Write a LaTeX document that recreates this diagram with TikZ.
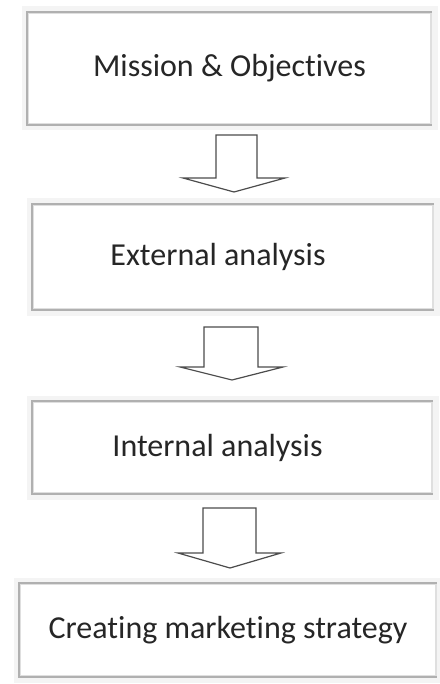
\documentclass[tikz,border=0pt]{standalone}
\usepackage{fontspec}
\setmainfont{Carlito}[Ligatures=NoCommon]
\usetikzlibrary{positioning}
\begin{document}
\begin{tikzpicture}[x=1pt,y=-1pt,
    stage/.style={draw=gray!25, line width=1.2pt, fill=white, text=black!85,
      font=\fontsize{32}{38}\selectfont, preaction={draw=gray!9, line width=13pt}},
    edge/.style={draw=gray!62, line width=2pt},
    flow/.style={draw=black!70, line width=1.2pt, fill=white, line join=miter}]
        \useasboundingbox (0,0) rectangle (439,684);
        % Stages
        \node[stage, minimum width=403pt, minimum height=111pt] (mission) at (229.5,68.5) {Mission \& Objectives};
        \node[stage, minimum width=400pt, minimum height=104pt] (external) at (233,257) {External analysis\hspace*{30pt}};
        \node[stage, minimum width=399pt, minimum height=91pt] (internal) at (232.5,447.5) {Internal analysis\hspace*{30pt}};
        \node[stage, minimum width=416pt, minimum height=92pt] (strategy) at (228,630) {Creating marketing strategy};
        % Darker edges (top, left, bottom)
        \foreach \b in {mission,external,internal,strategy} {
            \draw[edge] (\b.north east) -- (\b.north west) -- (\b.south west) -- (\b.south east);
        }
        % Block arrows between stages
        \foreach \sl/\sr/\hl/\hr/\tx/\ty/\by/\ey in {216/257/183/285/234/135/178/192,
                                                   204/258/180/283/232/327/367/380,
                                                   203/256/178/281/230/508/553/568} {
            \draw[flow] (\sl,\ty) -- (\sr,\ty) -- (\sr,\by) -- (\hr,\by) -- (\tx,\ey)
                -- (\hl,\by) -- (\sl,\by) -- cycle;
        }
    \end{tikzpicture}
\end{document}
